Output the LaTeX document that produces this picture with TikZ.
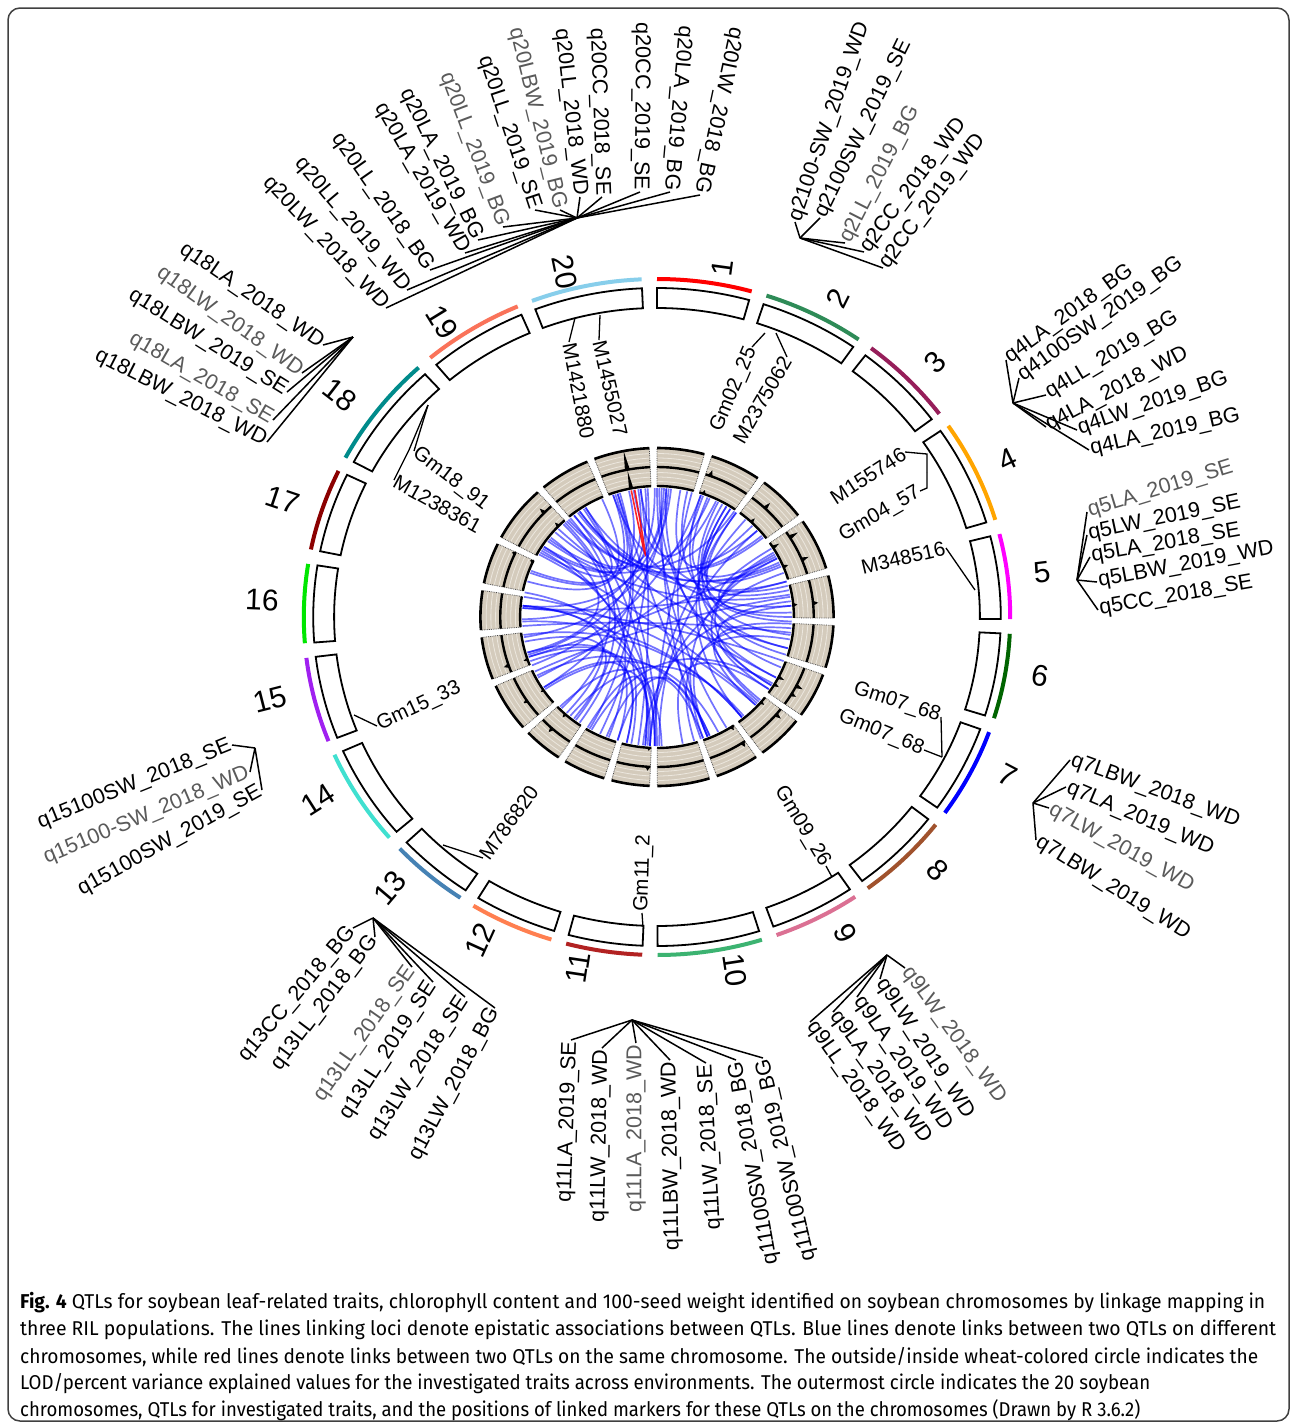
\documentclass[tikz,border=0pt]{standalone}
\usepackage{fontspec}
\setmainfont{Liberation Sans}
\newfontfamily\capfont{Fira Sans}
\usepackage{graphicx}
\definecolor{chr1}{RGB}{255,0,0}
\definecolor{chr2}{RGB}{46,139,87}
\definecolor{chr3}{RGB}{150,30,90}
\definecolor{chr4}{RGB}{255,165,0}
\definecolor{chr5}{RGB}{255,0,255}
\definecolor{chr6}{RGB}{0,100,0}
\definecolor{chr7}{RGB}{0,0,255}
\definecolor{chr8}{RGB}{160,82,45}
\definecolor{chr9}{RGB}{219,112,147}
\definecolor{chr10}{RGB}{60,179,113}
\definecolor{chr11}{RGB}{178,34,34}
\definecolor{chr12}{RGB}{255,127,80}
\definecolor{chr13}{RGB}{70,130,180}
\definecolor{chr14}{RGB}{64,224,208}
\definecolor{chr15}{RGB}{160,32,240}
\definecolor{chr16}{RGB}{0,230,0}
\definecolor{chr17}{RGB}{139,0,0}
\definecolor{chr18}{RGB}{0,139,139}
\definecolor{chr19}{RGB}{250,115,90}
\definecolor{chr20}{RGB}{135,206,235}
\definecolor{wheatc}{RGB}{212,203,188}
\definecolor{gridc}{RGB}{236,231,222}
\definecolor{lgray}{RGB}{90,90,90}
\tikzset{
  qlab/.style={font=\fontsize{21.5}{21.5}\selectfont, inner sep=1.5pt},
  mlab/.style={font=\fontsize{20.5}{20.5}\selectfont, inner sep=1pt},
  numlab/.style={font=\fontsize{30}{30}\selectfont, inner sep=0pt},
  conn/.style={line width=1.5pt, black},
  mconn/.style={line width=1.3pt, black},
  linkc/.style={draw=blue, opacity=0.55, line width=1.7pt},
  chrbox/.style={line width=1.8pt, draw=black, fill=white},
  capn/.style={font=\capfont\fontsize{20}{24}\selectfont, inner sep=0pt, anchor=west},
}
\newcommand{\QR}[6][]{\node[qlab,anchor=west,rotate=#5,#1] (#3) at (#4) {#6}; \draw[conn] (#2) -- (#3.west);}
\newcommand{\QL}[6][]{\node[qlab,anchor=east,rotate=#5,#1] (#3) at (#4) {#6}; \draw[conn] (#2) -- (#3.east);}
\begin{document}
\begin{tikzpicture}[x=1pt,y=-1pt]
\useasboundingbox (0,0) rectangle (1295,1428);
\fill[white] (0,0) rectangle (1295,1428);
\draw[line width=1.5pt, black!75, rounded corners=12pt] (8,8) rectangle (1289,1421);

\begin{scope}[shift={(657,617)},x=1pt,y=1pt,xscale=1.045]
 \foreach \n/\s/\e in {1/0/15.55, 2/18.05/34.81, 3/37.31/53.05, 4/55.55/73.29, 5/75.79/90.35,
   6/92.85/107.42, 7/109.92/125.41, 8/127.91/143.37, 9/145.87/160.22, 10/162.72/179.9,
   11/182.4/194.9, 12/197.4/211.32, 13/213.82/226.75, 14/229.25/245.95, 15/248.45/263.05,
   16/265.55/279.03, 17/281.53/295.61, 18/298.11/317.56, 19/320.06/336.77, 20/339.27/357.5}{
  \pgfmathsetmacro\as{90-\s}
  \pgfmathsetmacro\ae{90-\e}
  \draw[draw=chr\n, line width=4pt] (\as:338) arc[start angle=\as, end angle=\ae, radius=338];
  \draw[chrbox] (\as:309) -- (\as:329) arc[start angle=\as, end angle=\ae, radius=329] -- (\ae:309) arc[start angle=\ae, end angle=\as, radius=309] -- cycle;
  \fill[wheatc] (\as:131) -- (\as:169) arc[start angle=\as, end angle=\ae, radius=169] -- (\ae:131) arc[start angle=\ae, end angle=\as, radius=131] -- cycle;
  \foreach \rr in {135.5,140,144.5,154.5,159,163.5}{\draw[gridc, line width=0.8pt] (\as:\rr) arc[start angle=\as, end angle=\ae, radius=\rr];}
  \draw[black!70, densely dotted, line width=0.8pt] (\as:131) -- (\as:169) (\ae:131) -- (\ae:169);
  \draw[line width=2.6pt] (\as:169) arc[start angle=\as, end angle=\ae, radius=169];
  \draw[line width=2.4pt] (\as:150) arc[start angle=\as, end angle=\ae, radius=150];
  \draw[line width=2.4pt] (\as:131) arc[start angle=\as, end angle=\ae, radius=131];
 }
 % LOD / PVE peaks
 \foreach \a/\h/\k in {349.1/19/18, 19.85/6/4, 43.5/7/5, 57.9/9/7, 67.5/7/5, 84.7/5/4, 117.4/7/6, 121/5/5,
   130.6/6/4, 147/5/4, 183.4/4/3, 222/5/4, 251.1/5/4, 314/6/5, 236/4/3, 295/3/3}{
  \fill ({90-\a+0.9}:150) -- ({90-\a}:{150+\h}) -- ({90-\a-0.9}:150) -- cycle;
  \fill ({90-\a+0.9}:131) -- ({90-\a}:{131+\k}) -- ({90-\a-0.9}:131) -- cycle;
 }
 % links (quadratic curves with control point at the centre)
 \pgfmathsetseed{4217}
 \foreach \i in {1,...,96}{
  \pgfmathsetmacro{\pa}{random(0,359)}
  \pgfmathsetmacro{\pb}{mod(\pa+random(25,335),360)}
  \draw[linkc] ({90-\pa}:129) .. controls ({90-\pa}:43) and ({90-\pb}:43) .. ({90-\pb}:129);
 }
 \draw[red, line width=1.6pt, opacity=0.85] ({90-349}:129) .. controls ({90-349}:43) and ({90-350.5}:43) .. ({90-350.5}:129);
\end{scope}

% chromosome numbers
\foreach \n/\x/\y/\r in {1/722/268/82.2, 2/838/298/63.6, 3/935/362/44.8, 4/1008/460/25.6, 5/1042/572/6.9,
  6/1040/676/-10.1, 7/1008/775/-27.7, 8/938/870/-45.6, 9/845/933/-63, 10/735/970/-81.3,
  11/578/968/81.4, 12/480/940/65.6, 13/390/888/49.7, 14/318/800/32.4, 15/270/700/14.3,
  16/262/600/-2.3, 17/283/500/-18.6, 18/340/395/-37.8, 19/442/322/-58.4, 20/565/272/-78.4}{
  \node[numlab, rotate=\r] (num\n) at (\x,\y) {\n};
}

% ---------- QTL label groups ----------
\coordinate (h20) at (577,218);
\QL{h20}{q20a}{700,195}{-102}{q20LW\_2018\_BG}
\QL{h20}{q20b}{670,192}{-95}{q20LA\_2019\_BG}
\QL{h20}{q20c}{640,192}{-90.5}{q20CC\_2019\_SE}
\QL{h20}{q20d}{602,197}{-88}{q20CC\_2018\_SE}
\QL{h20}{q20e}{580,197}{-83.5}{q20LL\_2018\_WD}
\QL[lgray]{h20}{q20f}{560,210}{-76}{q20LBW\_2019\_BG}
\QL{h20}{q20g}{535,210}{-71.6}{q20LL\_2019\_SE}
\QL[lgray]{h20}{q20h}{503,227}{-69.4}{q20LL\_2019\_BG}
\QL{h20}{q20i}{478,240}{-64}{q20LA\_2019\_BG}
\QL{h20}{q20j}{465,253}{-60}{q20LA\_2019\_WD}
\QL{h20}{q20k}{430,270}{-55}{q20LL\_2018\_BG}
\QL{h20}{q20l}{407,290}{-50}{q20LL\_2019\_WD}
\QL{h20}{q20m}{386,308}{-47}{q20LW\_2018\_WD}

\coordinate (h2) at (800,238);
\QR{h2}{q2a}{795,222}{71}{q2100-SW\_2019\_WD}
\QR{h2}{q2b}{820,218}{64}{q2100SW\_2019\_SE}
\QR[lgray]{h2}{q2c}{845,243}{63}{q2LL\_2019\_BG}
\QR{h2}{q2d}{864,252}{53}{q2CC\_2018\_WD}
\QR{h2}{q2e}{883,268}{53}{q2CC\_2019\_WD}

\coordinate (h4) at (1013,403);
\QR{h4}{q4a}{1006,360}{36}{q4LA\_2018\_BG}
\QR{h4}{q4b}{1019,378}{35.7}{q4100SW\_2019\_BG}
\QR{h4}{q4c}{1046,395}{31}{q4LL\_2019\_BG}
\QR{h4}{q4d}{1046,427}{28}{q4LA\_2018\_WD}
\QR{h4}{q4e}{1077,430}{19}{q4LW\_2019\_BG}
\QR{h4}{q4f}{1089,450}{13}{q4LA\_2019\_BG}

\coordinate (h5) at (1077,580);
\QR[lgray]{h5}{q5a}{1087,512}{17}{q5LA\_2019\_SE}
\QR{h5}{q5b}{1087,535}{12}{q5LW\_2019\_SE}
\QR{h5}{q5c}{1090,557}{10}{q5LA\_2018\_SE}
\QR{h5}{q5d}{1097,582}{10.7}{q5LBW\_2019\_WD}
\QR{h5}{q5e}{1098,610}{10}{q5CC\_2018\_SE}

\coordinate (h7) at (1033,803);
\QR{h7}{q7a}{1070,760}{-20}{q7LBW\_2018\_WD}
\QR{h7}{q7b}{1066,787}{-23}{q7LA\_2019\_WD}
\QR[lgray]{h7}{q7c}{1049,808}{-29}{q7LW\_2019\_WD}
\QR{h7}{q7d}{1036,840}{-32}{q7LBW\_2019\_WD}

\coordinate (h9) at (887,955);
\QR[lgray]{h9}{q9a}{905,968}{-54}{q9LW\_2018\_WD}
\QR{h9}{q9b}{880,979}{-57}{q9LW\_2019\_WD}
\QR{h9}{q9c}{857,997}{-55.5}{q9LA\_2019\_WD}
\QR{h9}{q9d}{833,1012}{-54}{q9LA\_2018\_WD}
\QR{h9}{q9e}{810,1022}{-55}{q9LL\_2018\_WD}

\coordinate (h11) at (632,1020);
\QL{h11}{q11a}{571,1040}{88}{q11LA\_2019\_SE}
\QL{h11}{q11b}{602,1048}{89}{q11LW\_2018\_WD}
\QL[lgray]{h11}{q11c}{636,1043}{90}{q11LA\_2018\_WD}
\QL{h11}{q11d}{670,1060}{91}{q11LBW\_2018\_WD}
\QL{h11}{q11e}{706,1063}{93}{q11LW\_2018\_SE}
\QL{h11}{q11f}{736,1060}{100}{q11100SW\_2018\_BG}
\QL{h11}{q11g}{763,1058}{103}{q11100SW\_2019\_BG}

\coordinate (h13) at (373,918);
\QL{h13}{q13a}{353,928}{50}{q13CC\_2018\_BG}
\QL{h13}{q13b}{375,937}{53}{q13LL\_2018\_BG}
\QL[lgray]{h13}{q13c}{412,967}{55}{q13LL\_2018\_SE}
\QL{h13}{q13d}{433,982}{57}{q13LL\_2019\_SE}
\QL{h13}{q13e}{465,997}{57}{q13LW\_2018\_SE}
\QL{h13}{q13f}{495,1008}{62}{q13LW\_2018\_BG}

\coordinate (h15) at (255,748);
\QL{h15}{q15a}{232,745}{22}{q15100SW\_2018\_SE}
\QL[lgray]{h15}{q15b}{250,772}{23}{q15100-SW\_2018\_WD}
\QL{h15}{q15c}{262,790}{29}{q15100SW\_2019\_SE}

\coordinate (h18) at (353,337);
\QL{h18}{q18a}{323,345}{-34.5}{q18LA\_2018\_WD}
\QL[lgray]{h18}{q18b}{302,373}{-35.5}{q18LW\_2018\_WD}
\QL{h18}{q18c}{287,392}{-32}{q18LBW\_2019\_SE}
\QL[lgray]{h18}{q18d}{273,420}{-30}{q18LA\_2018\_SE}
\QL{h18}{q18e}{267,442}{-27}{q18LBW\_2018\_WD}

% ---------- marker labels ----------
\node[mlab, anchor=west, rotate=-79] (m1421) at (569,342) {M1421880};
\coordinate (b1421) at (575,318);
\draw[mconn] (m1421.west) -- (b1421);
\node[mlab, anchor=west, rotate=-77] (m1455) at (599,340) {M1455027};
\coordinate (b1455) at (600,315);
\draw[mconn] (m1455.west) -- (b1455);

\node[mlab, anchor=east, rotate=67] (gm02) at (752,347) {Gm02\_25};
\coordinate (bgm02) at (765,333);
\draw[mconn] (gm02.east) -- (bgm02);
\node[mlab, anchor=east, rotate=60] (m2375) at (787,357) {M2375062};
\coordinate (b2375) at (776,333);
\draw[mconn] (m2375.east) -- (b2375);

\node[mlab, anchor=east, rotate=33] (m1557) at (905,452) {M155746};
\node[mlab, anchor=east, rotate=30] (gm04) at (920,491) {Gm04\_57};
\coordinate (k4a) at (927,454);
\coordinate (k4b) at (927,488);
\coordinate (b4) at (927,472);
\draw[mconn] (m1557.east) -- (k4a) -- (b4);
\draw[mconn] (gm04.east) -- (k4b) -- (b4);

\node[mlab, anchor=east, rotate=13] (m3485) at (946,548) {M348516};
\coordinate (b3485) at (975,590);
\draw[mconn] (m3485.east) -- (b3485);

\node[mlab, anchor=east, rotate=-18] (gm07a) at (941,717) {Gm07\_68};
\node[mlab, anchor=east, rotate=-22] (gm07b) at (924,750) {Gm07\_68};
\coordinate (b7) at (942,757);
\draw[mconn] (gm07a.east) -- (b7);
\draw[mconn] (gm07b.east) -- (b7);

\node[mlab, anchor=east, rotate=-59] (gm09) at (826,866) {Gm09\_26};
\coordinate (b9) at (832,877);
\draw[mconn] (gm09.east) -- (b9);

\node[mlab, anchor=west, rotate=88] (gm11) at (642,913) {Gm11\_2};
\coordinate (b11) at (643,927);
\draw[mconn] (gm11.west) -- (b11);

\node[mlab, anchor=west, rotate=54] (m7868) at (483,858) {M786820};
\coordinate (b13) at (443,845);
\draw[mconn] (m7868.west) -- (b13);

\node[mlab, anchor=west, rotate=25] (gm15) at (377,726) {Gm15\_33};
\coordinate (b15) at (354,715);
\draw[mconn] (gm15.west) -- (b15);

\node[mlab, anchor=west, rotate=-37.5] (gm18) at (414,451) {Gm18\_91};
\node[mlab, anchor=west, rotate=-29] (m1238) at (394,480) {M1238361};
\coordinate (k18) at (409,450);
\coordinate (b18) at (428,405);
\draw[mconn] (m1238.west) -- (k18) -- (b18);
\draw[mconn] (gm18.west) -- (b18);

% ---------- caption ----------
\node[capn] (cap1) at (20,1303) {\resizebox{1245pt}{\height}{\textbf{Fig. 4} QTLs for soybean leaf-related traits, chlorophyll content and 100-seed weight identified on soybean chromosomes by linkage mapping in}};
\node[capn] (cap2) at (20,1330) {\resizebox{1256pt}{\height}{three RIL populations. The lines linking loci denote epistatic associations between QTLs. Blue lines denote links between two QTLs on different}};
\node[capn] (cap3) at (20,1357) {\resizebox{1238pt}{\height}{chromosomes, while red lines denote links between two QTLs on the same chromosome. The outside/inside wheat-colored circle indicates the}};
\node[capn] (cap4) at (20,1384) {\resizebox{1130pt}{\height}{LOD/percent variance explained values for the investigated traits across environments. The outermost circle indicates the 20 soybean}};
\node[capn] (cap5) at (20,1410) {\resizebox{1120pt}{\height}{chromosomes, QTLs for investigated traits, and the positions of linked markers for these QTLs on the chromosomes (Drawn by R 3.6.2)}};
\end{tikzpicture}
\end{document}
